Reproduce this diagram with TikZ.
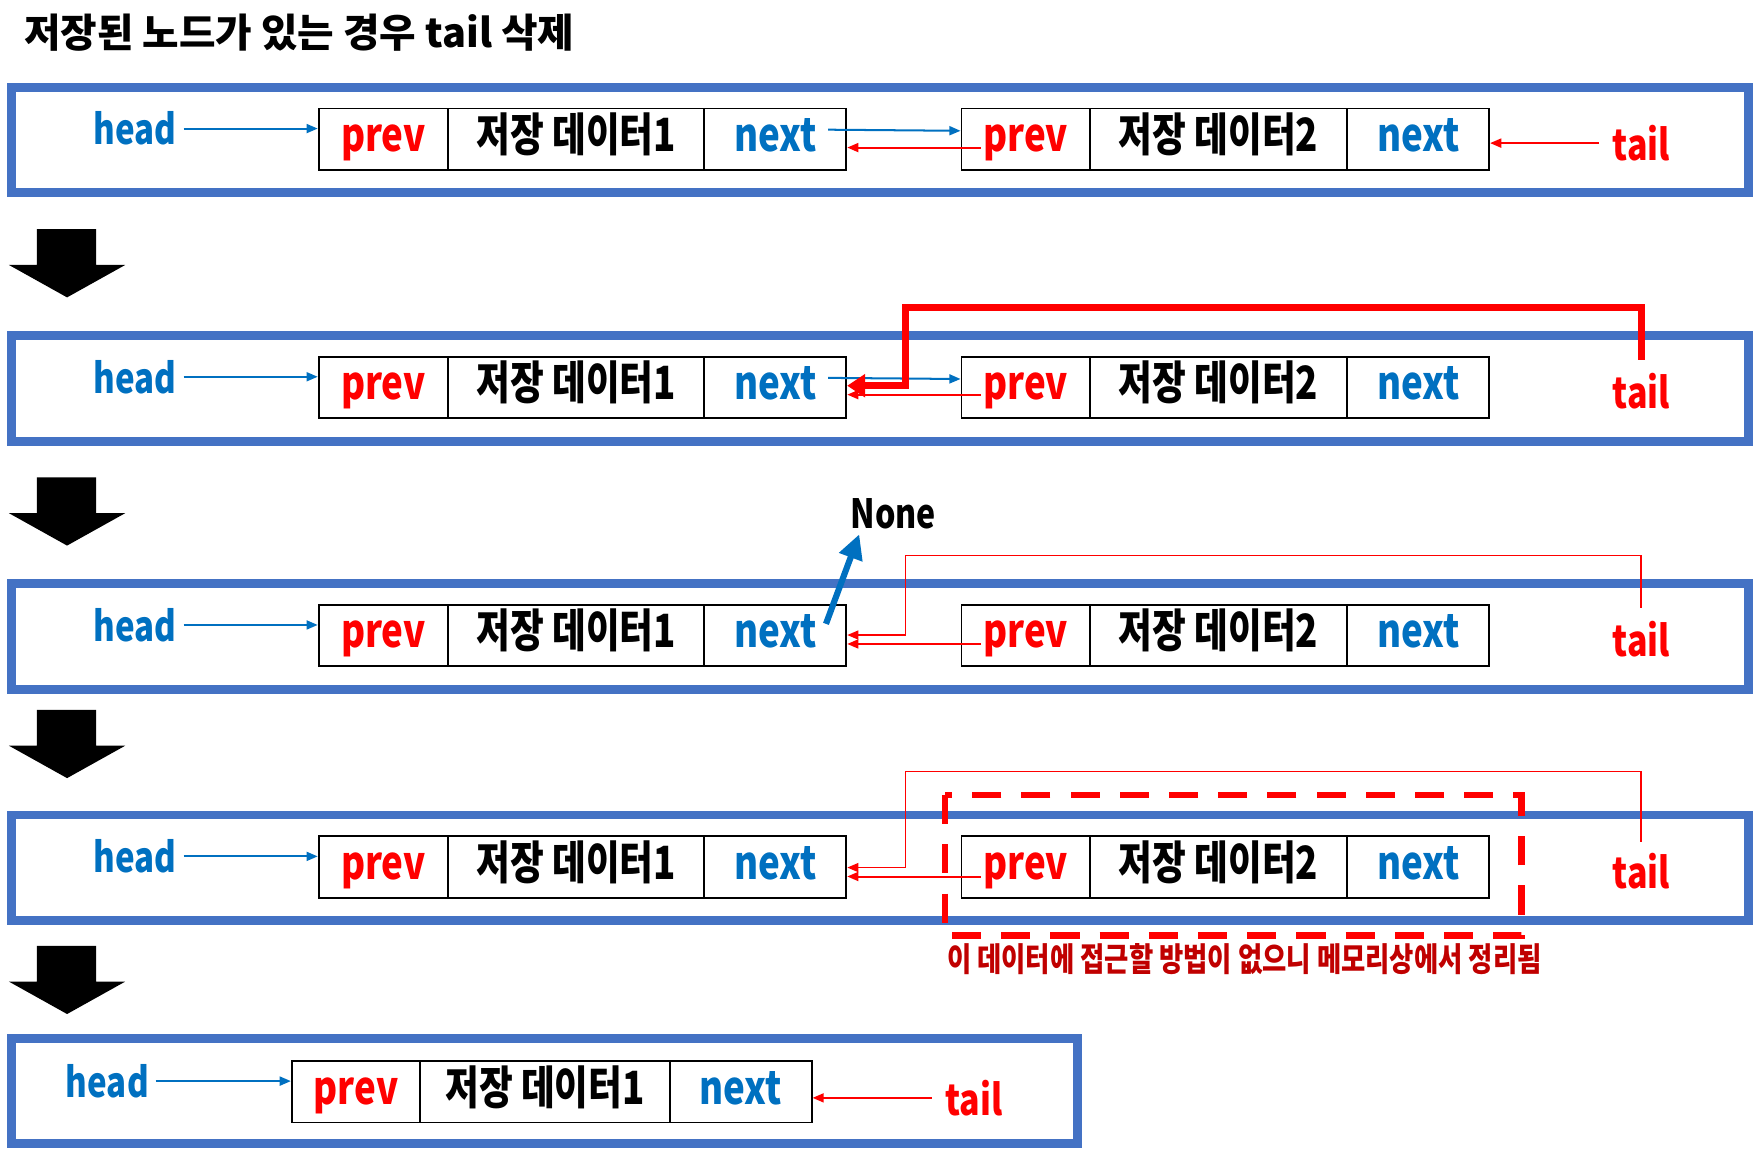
\documentclass[tikz,border=0pt]{standalone}
\usepackage{fontspec}
\setmainfont{Noto Sans CJK KR}[FakeStretch=0.8]
\newfontfamily\titlefont{Noto Sans CJK KR}
\usepackage{xcolor}
\usetikzlibrary{arrows.meta, calc, positioning}

\definecolor{frameblue}{HTML}{4472C4}
\definecolor{linkblue}{HTML}{0070C0}
\definecolor{notered}{HTML}{C00000}

\tikzset{
  panel/.style={draw=frameblue, line width=8pt},
  cell/.style={draw, line width=1.6pt, minimum height=55pt, inner sep=0pt,
    text height=30pt, text depth=8pt,
    font=\bfseries\fontsize{41}{41}\selectfont},
  headlbl/.style={text=linkblue, inner sep=0pt, font=\bfseries\fontsize{37}{37}\selectfont},
  taillbl/.style={text=red, inner sep=0pt, font=\bfseries\fontsize{38}{38}\selectfont},
  ptr/.style={-{Triangle[length=10pt,width=8pt]}, line width=1.8pt},
  bigptr/.style={-{Triangle[length=16pt,width=20pt]}, line width=6pt},
  noneptr/.style={-{Triangle[length=22pt,width=21pt]}, line width=5.5pt},
  dashbox/.style={draw=red, line width=6pt, dash pattern=on 26pt off 18pt},
}

\begin{document}
\begin{tikzpicture}[x=1pt, y=1pt]
  \useasboundingbox (0,0) rectangle (1568,-1028);
  %% title
  \node[anchor=west, font=\titlefont\bfseries\fontsize{35.5}{36}\selectfont]
    (title) at (18,-29) {저장된 노드가 있는 경우 tail 삭제};
  %% step arrows
  \foreach \t in {205,427,635,846}{
    \fill (33,-\t) -- (86,-\t) -- (86,{-\t-32}) -- (112,{-\t-32})
      -- (60,{-\t-61}) -- (8,{-\t-32}) -- (33,{-\t-32}) -- cycle;
  }
  %% panels with two nodes
  \foreach \i/\yc in {1/-124.5,2/-346.5,3/-568.5,4/-775.5}{
    \draw[panel] (10.5,\yc+46.5) rectangle (1564,\yc-48);
    \node[cell, minimum width=116pt, text=red] (prevA\i) at (343,\yc) {prev};
    \node[cell, minimum width=229pt] (dataA\i) at (515.5,\yc) {저장 데이터1};
    \node[cell, minimum width=127pt, text=linkblue] (nextA\i) at (693.5,\yc) {next};
    \node[cell, minimum width=115pt, text=red] (prevB\i) at (917.5,\yc) {prev};
    \node[cell, minimum width=230pt] (dataB\i) at (1090,\yc) {저장 데이터2};
    \node[cell, minimum width=127pt, text=linkblue] (nextB\i) at (1268.5,\yc) {next};
    \node[headlbl] (head\i) at (121,\yc+9.5) {head};
    \node[taillbl] (tail\i) at (1468,\yc-3.5) {tail};
    \draw[ptr, linkblue] ([xshift=6pt]head\i.east) -- (prevA\i.west |- head\i);
  }
  %% 1: starting list
  \draw[ptr, linkblue] ([xshift=-17pt,yshift=8.5pt]nextA1.east) -- ([yshift=7.5pt]prevB1.west);
  \draw[ptr, red] ([xshift=18pt,yshift=-7.5pt]prevB1.west) -- ([yshift=-7.5pt]nextA1.east);
  \draw[ptr, red] ([xshift=-12pt]tail1.west) -- (nextB1.east |- tail1.west);
  %% 2: tail moves to prev of node 2
  \coordinate (bend2) at (810,-275);
  \draw[ptr, linkblue] ([xshift=-17pt,yshift=8.5pt]nextA2.east) -- ([yshift=7.5pt]prevB2.west);
  \draw[ptr, red] ([xshift=18pt,yshift=-6.5pt]prevB2.west) -- ([yshift=-6.5pt]nextA2.east);
  \draw[bigptr, red] ([yshift=12pt]tail2.north) |- (bend2) |- ([yshift=1.5pt]nextA2.east);
  %% 3: next of node 1 set to None
  \coordinate (bend3) at (810,-497);
  \node[font=\bfseries\fontsize{36}{36}\selectfont, inner sep=0pt] (none) at (799,-460) {None};
  \draw[noneptr, linkblue] ([xshift=-19pt,yshift=10.5pt]nextA3.east) -- ([xshift=8pt,yshift=-4pt]none.south west);
  \draw[ptr, red] ([xshift=18pt,yshift=-7.5pt]prevB3.west) -- ([yshift=-7.5pt]nextA3.east);
  \draw[ptr, red, line width=1.5pt] ([yshift=12pt]tail3.north) |- (bend3) |- ([yshift=0.5pt]nextA3.east);
  %% 4: node 2 unreachable
  \coordinate (bend4) at (810,-690);
  \draw[ptr, red] ([xshift=18pt,yshift=-8.5pt]prevB4.west) -- ([yshift=-8.5pt]nextA4.east);
  \draw[ptr, red, line width=1.5pt] ([yshift=10pt]tail4.north) |- (bend4) |- ([yshift=-0.5pt]nextA4.east);
  \draw[dashbox] ([shift={(-14,36)}]prevB4.north west) rectangle ([shift={(28,-33)}]nextB4.south east);
  \node[text=notered, font=\bfseries\fontsize{29.5}{30}\selectfont] (gone) at (1113,-858)
    {이 데이터에 접근할 방법이 없으니 메모리상에서 정리됨};
  %% 5: result
  \draw[panel] (10.5,-929) rectangle (964,-1023);
  \node[cell, minimum width=115pt, text=red] (prevC) at (318.5,-976.5) {prev};
  \node[cell, minimum width=223pt] (dataC) at (487.5,-976.5) {저장 데이터1};
  \node[cell, minimum width=127pt, text=linkblue] (nextC) at (662.5,-976.5) {next};
  \node[headlbl] (head5) at (96,-967) {head};
  \node[taillbl] (tail5) at (871,-982) {tail};
  \draw[ptr, linkblue] ([xshift=6pt]head5.east) -- (prevC.west |- head5);
  \draw[ptr, red] ([xshift=-12pt]tail5.west) -- (nextC.east |- tail5.west);
\end{tikzpicture}
\end{document}
